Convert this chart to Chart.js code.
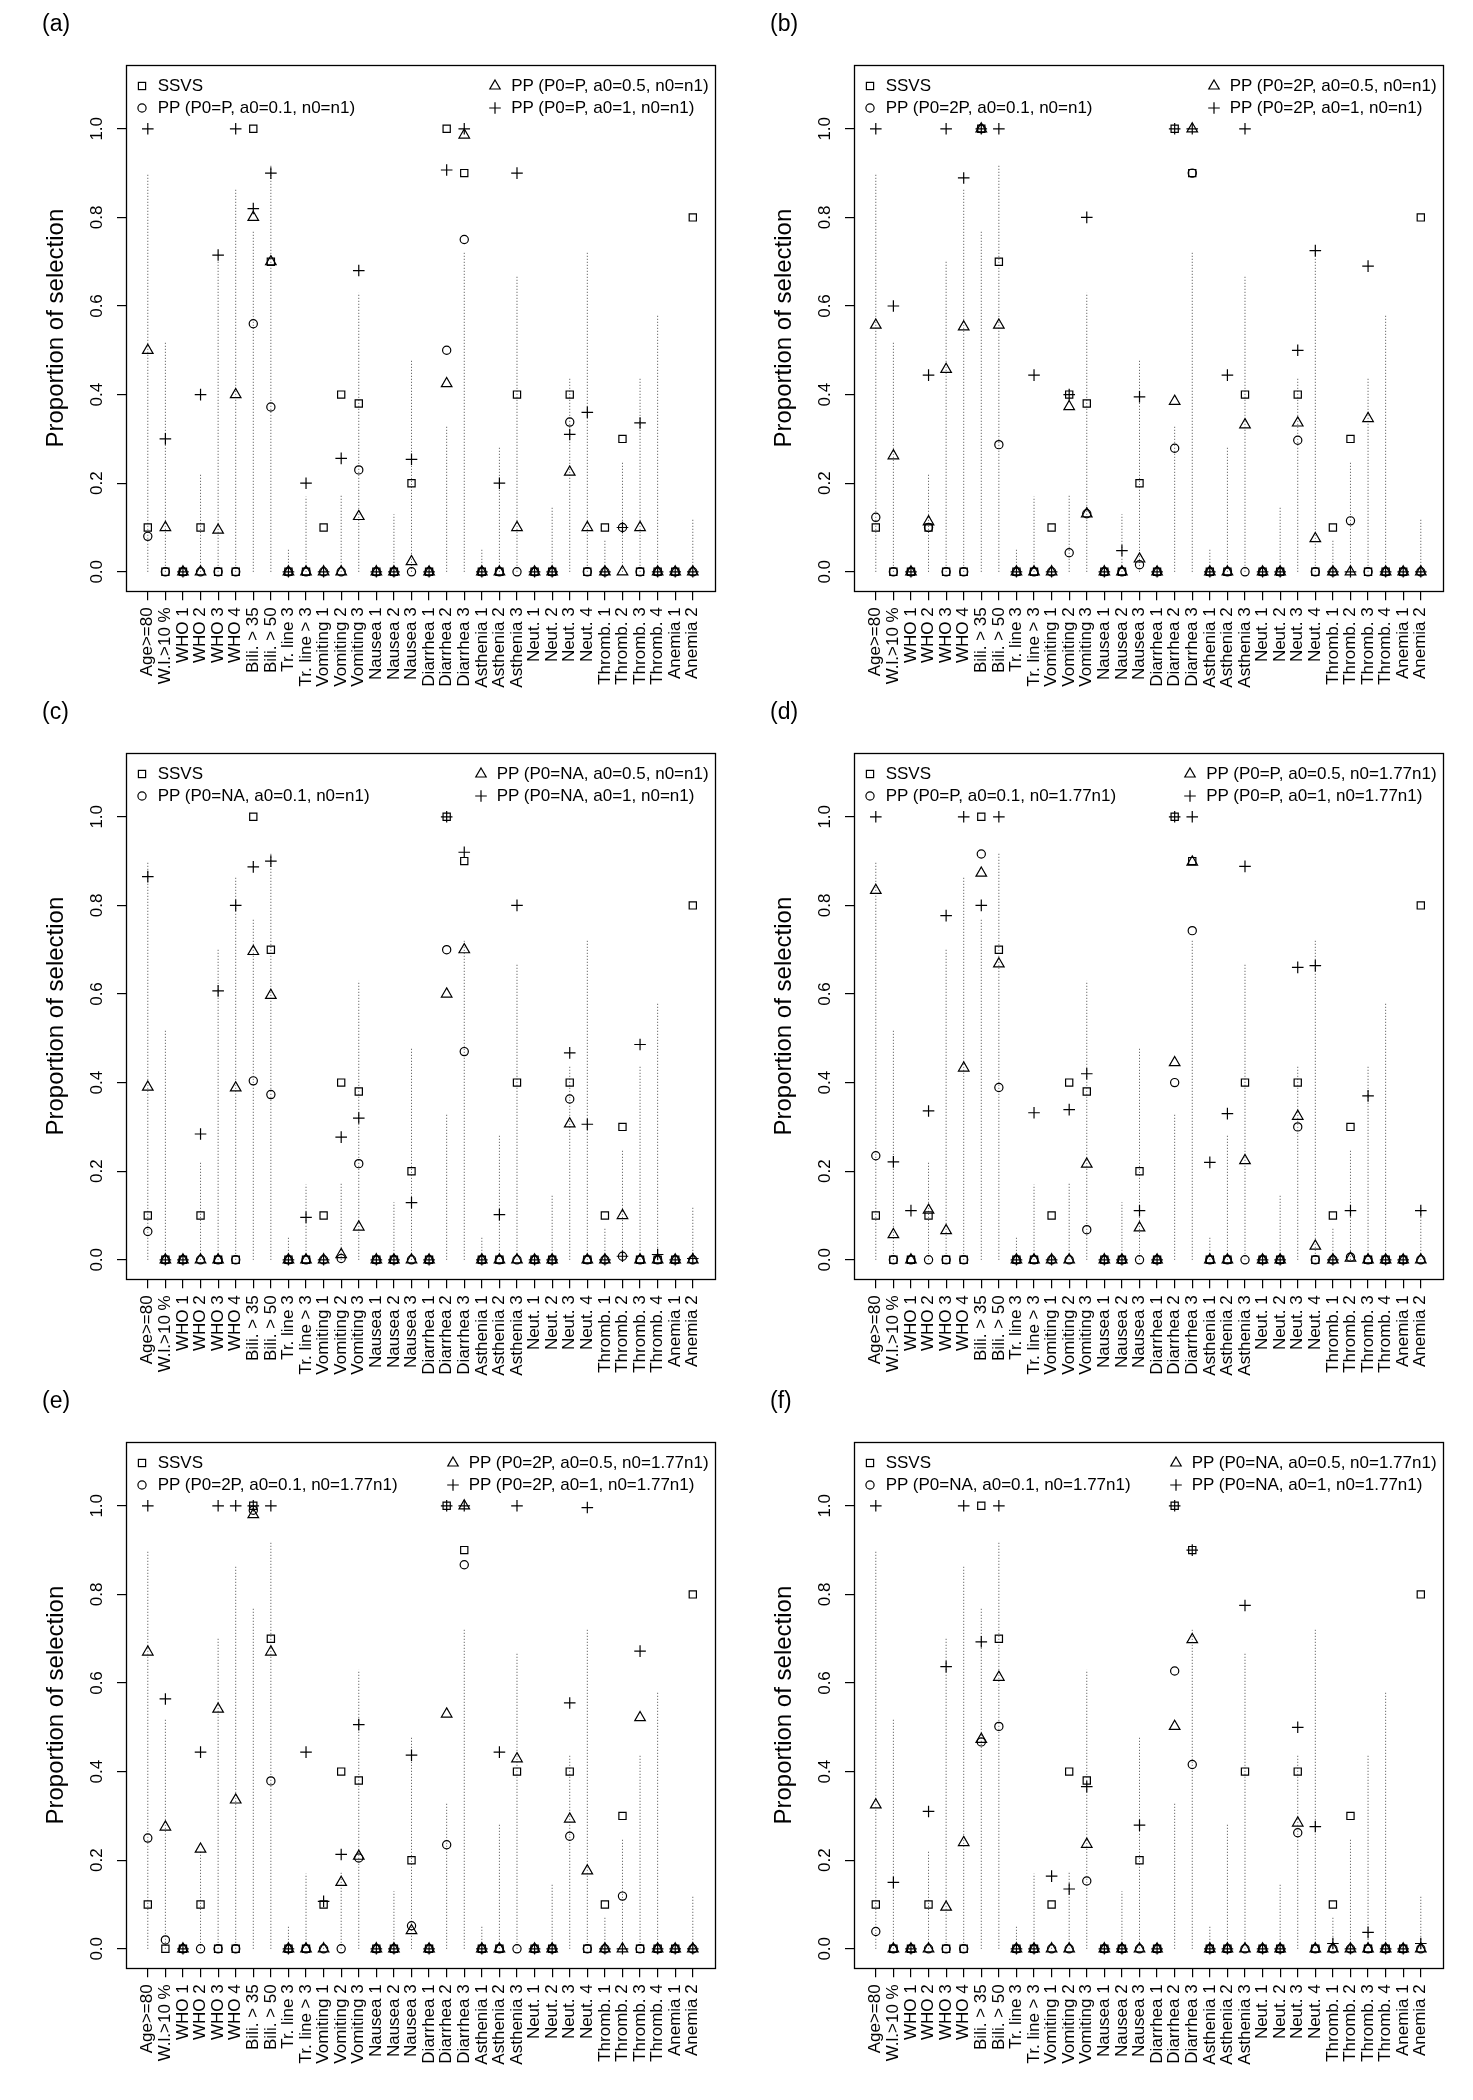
<!DOCTYPE html>
<html>
<head>
<meta charset="utf-8">
<script src="https://cdn.jsdelivr.net/npm/chart.js@4.4.0/dist/chart.umd.min.js"></script>
<style>
  body { margin: 0; background: #fff; font-family: 'Liberation Sans', Arial, sans-serif; }
  #page { position: relative; width: 1473px; height: 2100px; }
  .panel { position: absolute; }
  .panel canvas { position: absolute; left: 0; top: 0; }
  .tag { position: absolute; font-size: 23px; color: #000; }
  .leg { position: absolute; font-size: 17px; color: #000; line-height: 22px; }
  .leg .row { display: flex; align-items: center; white-space: nowrap; }
  .leg svg { margin-right: 8px; flex: none; }
</style>
</head>
<body>
<div id="page"></div>
<script>
// ===== categories and axis =====
const categories = ['Age>=80','W.l.>10 %','WHO 1','WHO 2','WHO 3','WHO 4','Bili. > 35','Bili. > 50',
  'Tr. line 3','Tr. line > 3','Vomiting 1','Vomiting 2','Vomiting 3','Nausea 1','Nausea 2','Nausea 3',
  'Diarrhea 1','Diarrhea 2','Diarrhea 3','Asthenia 1','Asthenia 2','Asthenia 3','Neut. 1','Neut. 2',
  'Neut. 3','Neut. 4','Thromb. 1','Thromb. 2','Thromb. 3','Thromb. 4','Anemia 1','Anemia 2'];
const yTicks = [0, 0.2, 0.4, 0.6, 0.8, 1.0];

// ===== shared series (same in every panel) =====
const ssvs = [0.1,0,0,0.1,0,0,1,0.7,0,0,0.1,0.4,0.38,0,0,0.2,0,1,0.9,0,0,0.4,0,0,0.4,0,0.1,0.3,0,0,0,0.8];
// upper end of the dotted vertical lines
const upperLimit = [0.9,0.52,0,0.22,0.7,0.865,0.77,0.92,0.05,0.17,0.02,0.175,0.63,0.02,0.13,0.48,
  0,0.33,0.72,0.05,0.28,0.67,0,0.145,0.44,0.72,0.07,0.25,0.44,0.58,0,0.12];

// ===== panel (a) =====
const circleA   = [0.08,0,0,0,0,0,0.56,0.372,0,0,0,0,0.23,0,0,0,0,0.5,0.75,0,0,0,0,0,0.338,0,0,0.1,0,0,0,0];
const triangleA = [0.5,0.1,0,0,0.094,0.4,0.8,0.7,0,0,0,0,0.125,0,0,0.023,0,0.425,0.986,0,0,0.1,0,0,0.225,0.1,0,0,0.1,0,0,0];
const plusA     = [1,0.3,0,0.4,0.715,1,0.82,0.9,0,0.2,0,0.256,0.68,0,0,0.254,0,0.907,1,0,0.2,0.9,0,0,0.31,0.36,0,0.1,0.336,0,0,0];
const legendA   = ['SSVS','PP (P0=P, a0=0.1, n0=n1)','PP (P0=P, a0=0.5, n0=n1)','PP (P0=P, a0=1, n0=n1)'];

// ===== panel (b) =====
const circleB   = [0.123,0,0,0.1,0,0,1,0.287,0,0,0,0.043,0.131,0,0,0.016,0,0.279,0.9,0,0,0,0,0,0.297,0,0,0.115,0,0,0,0];
const triangleB = [0.557,0.262,0,0.113,0.457,0.553,1,0.557,0,0,0,0.373,0.131,0,0,0.029,0,0.385,1,0,0,0.332,0,0,0.336,0.075,0,0,0.346,0,0,0];
const plusB     = [1,0.6,0,0.444,1,0.889,1,1,0,0.444,0,0.4,0.8,0,0.048,0.395,0,1,1,0,0.444,1,0,0,0.5,0.725,0,0,0.69,0,0,0];
const legendB   = ['SSVS','PP (P0=2P, a0=0.1, n0=n1)','PP (P0=2P, a0=0.5, n0=n1)','PP (P0=2P, a0=1, n0=n1)'];

// ===== panel (c) =====
const circleC   = [0.064,0,0,0,0,0,0.404,0.373,0,0,0,0.003,0.217,0,0,0,0,0.7,0.47,0,0,0,0,0,0.363,0,0,0.008,0,0,0,0];
const triangleC = [0.39,0,0,0,0,0.388,0.696,0.597,0,0,0,0.012,0.074,0,0,0,0,0.6,0.7,0,0,0,0,0,0.307,0,0,0.1,0,0,0,0];
const plusC     = [0.865,0,0,0.284,0.607,0.8,0.887,0.9,0,0.096,0,0.277,0.32,0,0,0.129,0,1,0.92,0,0.102,0.8,0,0,0.467,0.306,0,0.008,0.486,0.012,0,0.003];
const legendC   = ['SSVS','PP (P0=NA, a0=0.1, n0=n1)','PP (P0=NA, a0=0.5, n0=n1)','PP (P0=NA, a0=1, n0=n1)'];

// ===== panel (d) =====
const circleD   = [0.235,0,0,0,0,0,0.916,0.389,0,0,0,0,0.068,0,0,0,0,0.4,0.743,0,0,0,0,0,0.3,0,0,0.006,0,0,0,0];
const triangleD = [0.834,0.057,0,0.112,0.066,0.433,0.873,0.668,0,0,0,0,0.216,0,0,0.072,0,0.445,0.898,0,0,0.224,0,0,0.324,0.031,0,0.004,0,0,0,0];
const plusD     = [1,0.221,0.111,0.336,0.777,1,0.8,1,0,0.332,0,0.339,0.42,0,0,0.111,0,1,1,0.22,0.33,0.888,0,0,0.66,0.664,0,0.111,0.37,0,0,0.111];
const legendD   = ['SSVS','PP (P0=P, a0=0.1, n0=1.77n1)','PP (P0=P, a0=0.5, n0=1.77n1)','PP (P0=P, a0=1, n0=1.77n1)'];

// ===== panel (e) =====
const circleE   = [0.25,0.02,0,0,0,0,0.99,0.379,0,0,0,0,0.205,0,0,0.052,0,0.235,0.867,0,0,0,0,0,0.254,0,0,0.119,0,0,0,0];
const triangleE = [0.67,0.275,0,0.225,0.541,0.336,0.98,0.67,0,0,0,0.15,0.209,0,0,0.041,0,0.53,1,0,0,0.429,0,0,0.293,0.176,0,0,0.522,0,0,0];
const plusE     = [1,0.564,0,0.444,1,1,1,1,0,0.444,0.107,0.213,0.506,0,0,0.437,0,1,1,0,0.444,1,0,0,0.555,0.996,0,0,0.672,0,0,0];
const legendE   = ['SSVS','PP (P0=2P, a0=0.1, n0=1.77n1)','PP (P0=2P, a0=0.5, n0=1.77n1)','PP (P0=2P, a0=1, n0=1.77n1)'];

// ===== panel (f) =====
const circleF   = [0.039,0,0,0,0,0,0.467,0.502,0,0,0,0,0.153,0,0,0,0,0.627,0.416,0,0,0,0,0,0.262,0,0,0,0,0,0,0];
const triangleF = [0.325,0,0,0,0.094,0.24,0.473,0.613,0,0,0,0,0.236,0,0,0,0,0.502,0.698,0,0,0,0,0,0.284,0,0,0,0,0,0,0];
const plusF     = [1,0.15,0,0.31,0.637,1,0.693,1,0,0,0.164,0.135,0.366,0,0,0.279,0,1,0.9,0,0,0.775,0,0,0.5,0.276,0.012,0,0.037,0,0,0.012];
const legendF   = ['SSVS','PP (P0=NA, a0=0.1, n0=1.77n1)','PP (P0=NA, a0=0.5, n0=1.77n1)','PP (P0=NA, a0=1, n0=1.77n1)'];

const panels = [
  { tag: '(a)', col: 0, row: 0, circle: circleA, triangle: triangleA, plus: plusA, legend: legendA },
  { tag: '(b)', col: 1, row: 0, circle: circleB, triangle: triangleB, plus: plusB, legend: legendB },
  { tag: '(c)', col: 0, row: 1, circle: circleC, triangle: triangleC, plus: plusC, legend: legendC },
  { tag: '(d)', col: 1, row: 1, circle: circleD, triangle: triangleD, plus: plusD, legend: legendD },
  { tag: '(e)', col: 0, row: 2, circle: circleE, triangle: triangleE, plus: plusE, legend: legendE },
  { tag: '(f)', col: 1, row: 2, circle: circleF, triangle: triangleF, plus: plusF, legend: legendF }
];

// ===== layout =====
const colLeft = [0, 728], colWidth = [728, 745];
const rowTop = [0, 688, 1377], rowHeight = 688;
const boxLeft = 126, boxRight = 714.6, boxTop = 65, boxBottom = 591.3;

Chart.defaults.font.family = "'Liberation Sans', Arial, sans-serif";
Chart.defaults.color = '#000';

const framePlugin = {
  id: 'frame',
  afterDraw(chart) {
    const a = chart.chartArea, ctx = chart.ctx;
    ctx.save();
    ctx.strokeStyle = '#000';
    ctx.lineWidth = 1.3;
    ctx.strokeRect(Math.round(a.left) + 0.5, Math.round(a.top) + 0.5,
      Math.round(a.right - a.left), Math.round(a.bottom - a.top));
    ctx.restore();
  }
};

function toPoints(arr) {
  return arr.map((v, i) => ({ x: i, y: v }));
}

function dottedPoints() {
  const pts = [];
  upperLimit.forEach((v, i) => { pts.push({ x: i, y: 0 }, { x: i, y: v }, { x: i, y: null }); });
  return pts;
}

function symbolSvg(kind) {
  const c = 8;
  let shape = '';
  if (kind === 'rect') shape = `<rect x="${c-3.6}" y="${c-3.6}" width="7.2" height="7.2"/>`;
  if (kind === 'circle') shape = `<circle cx="${c}" cy="${c}" r="4.1"/>`;
  if (kind === 'triangle') shape = `<polygon points="${c},${c-6} ${c+5.2},${c+3} ${c-5.2},${c+3}"/>`;
  if (kind === 'cross') shape = `<path d="M${c-5.8} ${c}H${c+5.8}M${c} ${c-5.8}V${c+5.8}"/>`;
  return `<svg width="16" height="16" viewBox="0 0 16 16"><g fill="none" stroke="#000" stroke-width="1.2">${shape}</g></svg>`;
}

function legendBlock(items) {
  const div = document.createElement('div');
  div.className = 'leg';
  div.innerHTML = items.map(([kind, txt]) => `<div class="row">${symbolSvg(kind)}<span>${txt}</span></div>`).join('');
  return div;
}

function markerSet(label, data, style, radius) {
  return {
    label: label, data: toPoints(data), pointStyle: style, pointRadius: radius,
    borderColor: '#000', backgroundColor: 'rgba(0,0,0,0)', pointBorderWidth: 1.2, borderWidth: 1.2
  };
}

function buildPanel(p) {
  const w = colWidth[p.col];
  const holder = document.createElement('div');
  holder.className = 'panel';
  holder.style.left = colLeft[p.col] + 'px';
  holder.style.top = rowTop[p.row] + 'px';
  holder.style.width = w + 'px';
  holder.style.height = rowHeight + 'px';

  const canvas = document.createElement('canvas');
  canvas.width = w; canvas.height = rowHeight;
  holder.appendChild(canvas);

  const tag = document.createElement('div');
  tag.className = 'tag';
  tag.textContent = p.tag;
  tag.style.left = '42px'; tag.style.top = '10px';
  holder.appendChild(tag);

  const legL = legendBlock([['rect', p.legend[0]], ['circle', p.legend[1]]]);
  legL.style.left = (boxLeft + 7.7) + 'px';
  legL.style.top = '75px';
  holder.appendChild(legL);

  const legR = legendBlock([['triangle', p.legend[2]], ['cross', p.legend[3]]]);
  legR.style.right = (w - boxRight + 6) + 'px';
  legR.style.top = '75px';
  holder.appendChild(legR);

  document.getElementById('page').appendChild(holder);

  new Chart(canvas, {
    type: 'scatter',
    data: {
      datasets: [
        { type: 'line', label: 'range', data: dottedPoints(), borderColor: '#4a4a4a', borderWidth: 1,
          borderDash: [1, 2], pointRadius: 0, spanGaps: false, fill: false, tension: 0, order: 10 },
        markerSet(p.legend[0], ssvs, 'rect', 5.1),
        markerSet(p.legend[1], p.circle, 'circle', 4.1),
        markerSet(p.legend[2], p.triangle, 'triangle', 6.1),
        markerSet(p.legend[3], p.plus, 'cross', 5.8)
      ]
    },
    options: {
      responsive: false,
      animation: false,
      events: [],
      layout: { padding: { left: 0, right: w - boxRight, top: boxTop, bottom: 0 } },
      plugins: { legend: { display: false }, tooltip: { enabled: false } },
      scales: {
        x: {
          type: 'linear', min: -1.24, max: 32.24,
          afterBuildTicks: (s) => { s.ticks = categories.map((c, i) => ({ value: i })); },
          afterFit: (s) => { s.height = rowHeight - boxBottom; },
          ticks: { autoSkip: false, minRotation: 90, maxRotation: 90, padding: 7,
                   font: { size: 17 }, color: '#000', callback: (v) => categories[v] },
          grid: { drawOnChartArea: false, drawTicks: true, tickLength: 9, color: '#000', lineWidth: 1.2 },
          border: { display: false }
        },
        y: {
          min: -0.044, max: 1.144,
          afterBuildTicks: (s) => { s.ticks = yTicks.map(v => ({ value: v })); },
          afterFit: (s) => { s.width = boxLeft; },
          ticks: { minRotation: 90, maxRotation: 90, crossAlign: 'center', padding: 8,
                   font: { size: 17 }, color: '#000', callback: (v) => v.toFixed(1) },
          grid: { drawOnChartArea: false, drawTicks: true, tickLength: 9, color: '#000', lineWidth: 1.2 },
          border: { display: false },
          title: { display: true, text: 'Proportion of selection', font: { size: 24 }, color: '#000',
                   padding: { top: 42, bottom: 0 } }
        }
      }
    },
    plugins: [framePlugin]
  });
}

panels.forEach(buildPanel);
</script>
</body>
</html>
